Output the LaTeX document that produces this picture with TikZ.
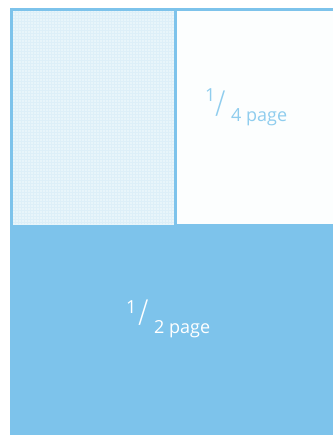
\documentclass[tikz,border=0pt]{standalone}
\usepackage{fontspec}
\setmainfont{Open Sans}
\newfontfamily\slashfont{DejaVu Sans ExtraLight}
\definecolor{pblue}{HTML}{7DC3EB}
\definecolor{gridfill}{HTML}{E8F5FA}
\definecolor{gridline}{HTML}{DDEFF8}
\definecolor{txtblue}{HTML}{8FCDEE}
\begin{document}
\begin{tikzpicture}[x=1pt,y=-1pt,
  frame/.style={draw=pblue,line width=3pt},
  frac/.style={font=\fontsize{18}{18}\selectfont,inner sep=0pt,anchor=base west},
  slash/.style={font=\slashfont\fontsize{31}{31}\selectfont,inner sep=0pt,anchor=base west}]
\useasboundingbox (0,0) rectangle (333,435);
\fill[white] (0,0) rectangle (333,435);
% bottom half page
\fill[pblue] (10,224) rectangle (333,435);
% left grid panel
\fill[gridfill] (10,9) rectangle (175,225);
\draw[gridline,line width=0.35pt,step=3pt] (12,11) grid (174,224);
% white quarter
\fill[white!98!pblue] (176,11) rectangle (333,224);
% frame lines
\draw[frame] (10,9.5) -- (333,9.5);
\draw[frame] (11.5,8) -- (11.5,225);
\draw[frame] (175.5,9.5) -- (175.5,225);
% labels quarter
\node[frac,text=txtblue] (q1) at (205,102) {1};
\node[slash,text=txtblue] (qs) at (215,114) {/};
\node[frac,text=txtblue] (q4) at (231,122) {4 page};
% labels half
\node[frac,text=white] (h1) at (126,313) {1};
\node[slash,text=white] (hs) at (138,322.5) {/};
\node[frac,text=white] (h2) at (154,333) {2 page};
\end{tikzpicture}
\end{document}
